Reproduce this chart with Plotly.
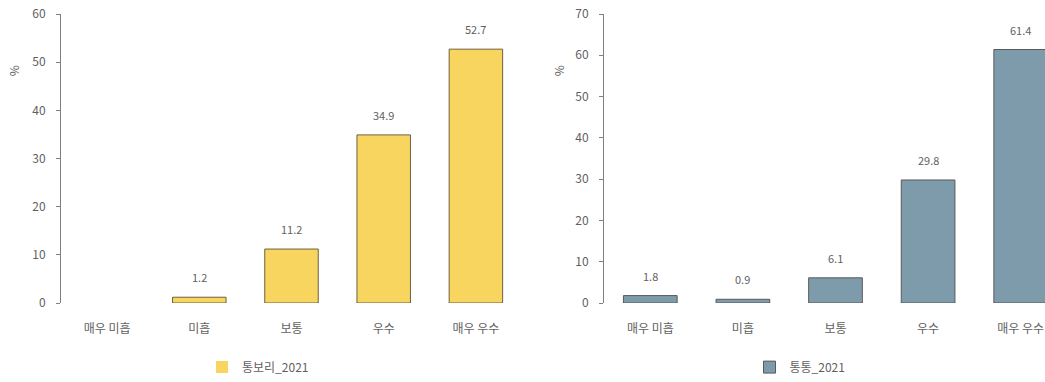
import plotly.graph_objects as go

categories = ["매우 미흡", "미흡", "보통", "우수", "매우 우수"]
values_left = [0, 1.2, 11.2, 34.9, 52.7]
values_right = [1.8, 0.9, 6.1, 29.8, 61.4]
name_left = "통보리_2021"
name_right = "통통_2021"

FONT = "Noto Sans CJK KR"
TXT = "#5F5F5F"

fig = go.Figure()

fig.add_trace(go.Bar(
    x=categories, y=values_left, name=name_left, showlegend=True,
    marker=dict(color="#F8D55E",
                line=dict(color="#6E6040", width=[0 if v == 0 else 1 for v in values_left])),
    width=0.58, xaxis="x", yaxis="y", legend="legend",
))
fig.add_trace(go.Bar(
    x=categories, y=values_right, name=name_right, showlegend=True,
    marker=dict(color="#7D9BAA", line=dict(color="#5A5A5A", width=1)),
    width=0.58, xaxis="x2", yaxis="y2", legend="legend2",
))

# value labels above bars (the zero bar carries no label)
annotations = []
for cat, v in zip(categories, values_left):
    if v > 0:
        annotations.append(dict(x=cat, y=v, xref="x", yref="y", text=f"{v:.1f}",
                                showarrow=False, yanchor="bottom", yshift=10,
                                font=dict(family=FONT, size=11, color=TXT)))
for cat, v in zip(categories, values_right):
    annotations.append(dict(x=cat, y=v, xref="x2", yref="y2", text=f"{v:.1f}",
                            showarrow=False, yanchor="bottom", yshift=10,
                            font=dict(family=FONT, size=11, color=TXT)))

# "%" unit titles
unit_y = 1 - (72 - 14) / (382 - 14 - 75)
for xp in (13 / 1045, 558 / 1045):
    annotations.append(dict(x=xp, y=unit_y, xref="paper", yref="paper",
                            text="%", showarrow=False, textangle=-90,
                            xanchor="center", yanchor="middle",
                            font=dict(family=FONT, size=12, color=TXT)))

tickfont = dict(family=FONT, size=12, color=TXT)
xcommon = dict(showgrid=False, zeroline=False, showline=False, ticks="",
               tickfont=tickfont, ticklabelstandoff=17)
ycommon = dict(showgrid=False, zeroline=False, showline=True, linecolor="#7F7F7F",
               linewidth=1, ticks="outside", ticklen=4, tickcolor="#7F7F7F",
               tickfont=tickfont, ticklabelstandoff=8, dtick=10)

legend_y = -(372 - 307) / 293
legend_common = dict(y=legend_y, xanchor="center", yanchor="middle",
                     orientation="h", itemwidth=30, bgcolor="rgba(0,0,0,0)",
                     font=dict(family=FONT, size=12, color=TXT))

fig.update_layout(
    width=1045, height=382,
    margin=dict(l=0, r=0, t=14, b=75),
    paper_bgcolor="white", plot_bgcolor="white",
    font=dict(family=FONT, size=11, color=TXT),
    annotations=annotations,
    xaxis=dict(domain=[61 / 1045, 522 / 1045], range=[-0.5, 4.5], **xcommon),
    yaxis=dict(range=[0, 60], anchor="x", **ycommon),
    xaxis2=dict(domain=[604 / 1045, 1.0], range=[-0.5, -0.5 + 441 / 92.6],
                anchor="y2", **xcommon),
    yaxis2=dict(range=[0, 70], anchor="x2", **ycommon),
    legend=dict(x=258 / 1045, **legend_common),
    legend2=dict(x=800 / 1045, **legend_common),
    showlegend=True,
)

fig.write_html("out.html")
